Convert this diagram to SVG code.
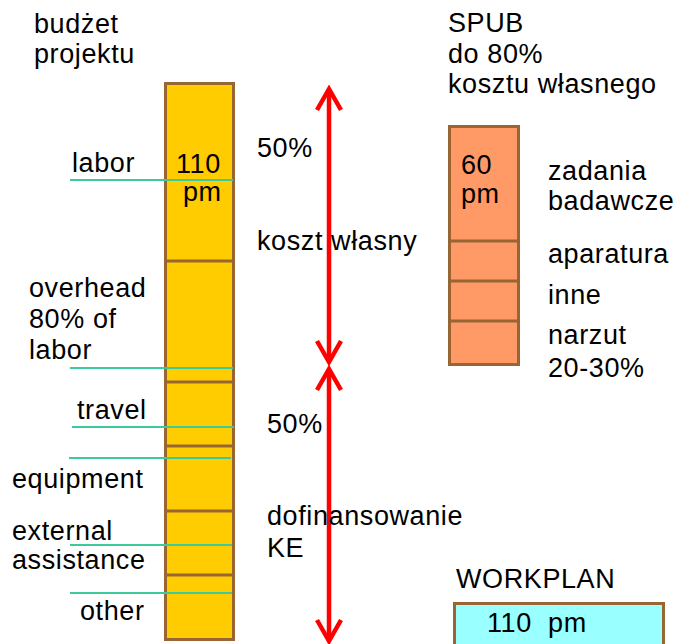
<svg xmlns="http://www.w3.org/2000/svg" width="688" height="644" viewBox="0 0 688 644">
<style>
text{font-family:"Liberation Sans",Arial,sans-serif;font-size:27px;letter-spacing:0.6px;fill:#000}
.bar{stroke:#996633;stroke-width:3}
.sep{stroke:#996633;stroke-width:3}
.tl{stroke:#3CC99C;stroke-width:2}
.arr{stroke:#FF0000;stroke-width:4.5;fill:none;stroke-linecap:butt}
</style>
<rect width="688" height="644" fill="#fff"/>
<g id="title-left"><text x="34" y="33">budżet</text><text x="34" y="63">projektu</text></g>
<g id="title-right"><text x="448" y="32">SPUB</text><text x="448" y="63">do 80%</text><text x="448" y="93">kosztu własnego</text></g>
<g id="budget-bar">
<rect class="bar" x="165.5" y="83.5" width="68" height="556" fill="#FFCC00"/>
<line class="sep" x1="164" y1="261" x2="235" y2="261"/>
<line class="sep" x1="164" y1="382" x2="235" y2="382"/>
<line class="sep" x1="164" y1="446" x2="235" y2="446"/>
<line class="sep" x1="164" y1="511" x2="235" y2="511"/>
<line class="sep" x1="164" y1="575" x2="235" y2="575"/>
<text x="176" y="173">110</text><text x="183" y="201">pm</text>
</g>
<g id="budget-labels">
<text x="72" y="172">labor</text>
<text x="29" y="297">overhead</text><text x="29" y="328">80% of</text><text x="29" y="359">labor</text>
<text x="77" y="419">travel</text>
<text x="12" y="488">equipment</text>
<text x="12" y="540">external</text><text x="12" y="569">assistance</text>
<text x="80" y="620">other</text>
</g>
<g id="connectors">
<line class="tl" x1="70" y1="180" x2="233" y2="180"/>
<line class="tl" x1="70" y1="368" x2="233" y2="368"/>
<line class="tl" x1="72" y1="427" x2="234" y2="427"/>
<line class="tl" x1="69" y1="458" x2="231" y2="458"/>
<line class="tl" x1="70" y1="545" x2="232" y2="545"/>
<line class="tl" x1="70" y1="593" x2="232" y2="593"/>
<line class="arr" x1="329" y1="90" x2="329" y2="361"/>
<polyline class="arr" points="317,110 329,89 341,110"/>
<polyline class="arr" points="317,341 329,362 341,341"/>
<line class="arr" x1="329" y1="370" x2="329" y2="640"/>
<polyline class="arr" points="317,390 329,369 341,390"/>
<polyline class="arr" points="317,620 329,641 341,620"/>
</g>
<g id="arrow-labels">
<text x="257" y="157">50%</text>
<text x="257" y="250">koszt własny</text>
<text x="267" y="433">50%</text>
<text x="267" y="525">dofinansowanie</text>
<text x="267" y="557">KE</text>
</g>
<g id="spub-bar">
<rect class="bar" x="449.5" y="126.5" width="69" height="238" fill="#FF9966"/>
<line class="sep" x1="448" y1="241" x2="520" y2="241"/>
<line class="sep" x1="448" y1="281" x2="520" y2="281"/>
<line class="sep" x1="448" y1="321" x2="520" y2="321"/>
<text x="461" y="174">60</text><text x="461" y="203">pm</text>
</g>
<g id="spub-labels">
<text x="548" y="180">zadania</text><text x="548" y="210">badawcze</text>
<text x="548" y="263">aparatura</text>
<text x="548" y="304">inne</text>
<text x="548" y="344">narzut</text><text x="548" y="377">20-30%</text>
</g>
<g id="workplan">
<text x="456" y="588">WORKPLAN</text>
<rect class="bar" x="454.5" y="603.5" width="209" height="50" fill="#99FFFF"/>
<text x="487" y="632" xml:space="preserve" style="white-space:pre">110  pm</text>
</g>
</svg>
